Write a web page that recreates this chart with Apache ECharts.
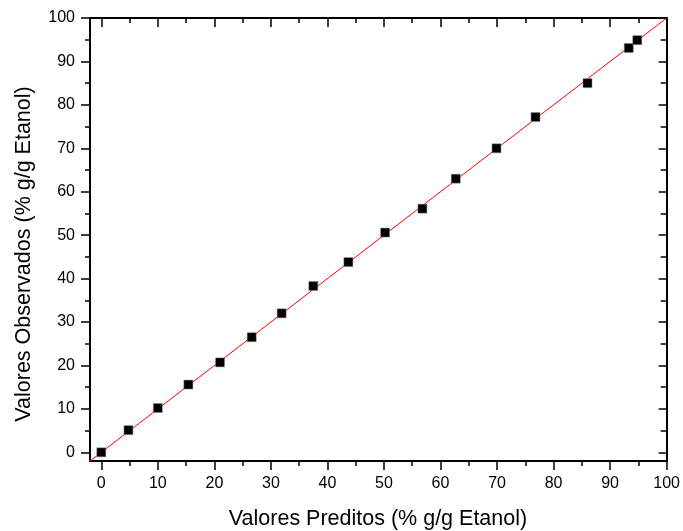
<!DOCTYPE html>
<html>
<head>
<meta charset="utf-8">
<script src="https://cdn.jsdelivr.net/npm/echarts@6/dist/echarts.min.js"></script>
<style>html,body{margin:0;padding:0;background:#fff}#c{width:683px;height:531px}</style>
</head>
<body>
<div id="c"></div>
<script>
var predicted = [0, 4.8, 10.0, 15.4, 21.0, 26.6, 31.9, 37.5, 43.7, 50.2, 56.8, 62.7, 69.9, 76.8, 86.0, 93.3, 94.8];
var observed  = [0, 5.1, 10.2, 15.6, 20.7, 26.5, 32.0, 38.3, 43.8, 50.6, 56.1, 63.0, 70.0, 77.2, 85.0, 93.1, 94.9];
var lineX = [-2, 100];
var lineY = [-2, 100];
var majorTicks = [0, 10, 20, 30, 40, 50, 60, 70, 80, 90, 100];
var minorTicks = [5, 15, 25, 35, 45, 55, 65, 75, 85, 95];
var xTitle = 'Valores Preditos (% g/g Etanol)';
var yTitle = 'Valores Observados (% g/g Etanol)';

var FONT = 'Liberation Sans, Arial, sans-serif';
function mkAxis(pos, ticks, len, inside, showLine, labels) {
  return {
    type: 'value', position: pos, min: -2, max: 100,
    axisLine: {show: showLine, onZero: false, lineStyle: {color: '#000', width: 2}},
    axisTick: {show: true, inside: inside, length: len, customValues: ticks,
               lineStyle: {color: '#000', width: 1.5}},
    axisLabel: labels ? {show: true, customValues: ticks, fontSize: 16, color: '#000',
               fontFamily: FONT, margin: 15} : {show: false},
    splitLine: {show: false}
  };
}
var chart = echarts.init(document.getElementById('c'), null, {renderer: 'canvas'});
var pts = predicted.map(function (v, i) { return [v, observed[i]]; });
var lpts = lineX.map(function (v, i) { return [v, lineY[i]]; });
chart.setOption({
  animation: false,
  backgroundColor: '#fff',
  grid: {left: 90, right: 16, top: 18, bottom: 70, containLabel: false},
  xAxis: [
    mkAxis('bottom', majorTicks, 9, false, true, true),
    mkAxis('bottom', minorTicks, 5, false, false, false),
    mkAxis('top', majorTicks, 9, true, true, false),
    mkAxis('top', minorTicks, 5, true, false, false)
  ],
  yAxis: [
    mkAxis('left', majorTicks, 9, false, true, true),
    mkAxis('left', minorTicks, 5, false, false, false),
    mkAxis('right', majorTicks, 8, true, true, false),
    mkAxis('right', minorTicks, 6, true, false, false)
  ],
  graphic: [
    {type: 'text', x: 378, y: 519, style: {text: xTitle, fontSize: 21.5, fontFamily: FONT,
      fill: '#000', textAlign: 'center', textVerticalAlign: 'middle'}},
    {type: 'text', x: 24, y: 254, rotation: Math.PI / 2, style: {text: yTitle, fontSize: 21.5,
      fontFamily: FONT, fill: '#000', textAlign: 'center', textVerticalAlign: 'middle'}}
  ],
  series: [
    {type: 'line', data: lpts, xAxisIndex: 0, yAxisIndex: 0, symbol: 'none',
     lineStyle: {color: '#ff0000', width: 1}, z: 2},
    {type: 'scatter', data: pts, xAxisIndex: 0, yAxisIndex: 0, symbol: 'rect',
     symbolSize: 9, itemStyle: {color: '#000', borderColor: '#888', borderWidth: 0.5, opacity: 1}, z: 3}
  ]
});
</script>
</body>
</html>
